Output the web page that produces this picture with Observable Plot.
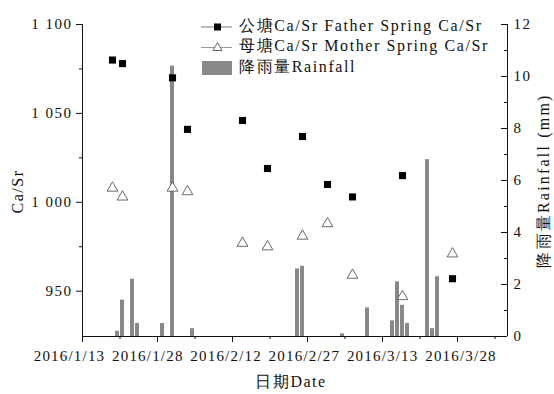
<!DOCTYPE html>
<html>
<head>
<meta charset="utf-8">
<script src="https://cdn.jsdelivr.net/npm/d3@7"></script>
<script src="https://cdn.jsdelivr.net/npm/@observablehq/plot@0.6"></script>
<style>
  html, body { margin: 0; padding: 0; background: #fff; }
  #wrap { position: relative; width: 554px; height: 394px; overflow: hidden; }
  #wrap svg, #wrap svg text { font-family: "Liberation Serif", serif !important; }
  .leg { position: absolute; left: 200px; font-family: "Liberation Serif", serif; font-size: 16px; letter-spacing: 1.6px; color: #111; white-space: nowrap; line-height: 20px; }
  .leg svg { vertical-align: middle; margin-right: 6px; }
</style>
</head>
<body>
<div id="wrap"></div>
<script>
// ---- data ----
const sampleDates = ["2016-01-19","2016-01-21","2016-01-31","2016-02-03","2016-02-14","2016-02-19","2016-02-26","2016-03-02","2016-03-07","2016-03-17","2016-03-27"];
const fatherCaSr = [1080, 1078, 1070, 1041, 1046, 1019, 1037, 1010, 1003, 1015, 957];
const motherCaSr = [1008, 1003, 1008, 1006, 977, 975, 981, 988, 959, 947, 971];
const rainDates = ["2016-01-20","2016-01-21","2016-01-23","2016-01-24","2016-01-29","2016-01-31","2016-02-04","2016-02-25","2016-02-26","2016-03-05","2016-03-10","2016-03-15","2016-03-16","2016-03-17","2016-03-18","2016-03-22","2016-03-23","2016-03-24"];
const rainfall = [0.2, 1.4, 2.2, 0.5, 0.5, 10.4, 0.3, 2.6, 2.7, 0.1, 1.1, 0.6, 2.1, 1.2, 0.5, 6.8, 0.3, 2.3];
const xTickDates = ["2016-01-13","2016-01-28","2016-02-12","2016-02-27","2016-03-13","2016-03-28"];
const caSrTicks = [950, 1000, 1050, 1100];
const caSrMinor = [975, 1025, 1075];
const rainTicks = [0, 2, 4, 6, 8, 10, 12];
const rainMinor = [1, 3, 5, 7, 9, 11];
const xDomain = ["2016-01-13", "2016-04-07"];
const yDomain = [924.5, 1100];
const rainMax = 12;

// ---- helpers ----
const DAY = 864e5;
const dt = s => new Date(s + "T00:00:00Z");
const toLeft = r => yDomain[0] + r * (yDomain[1] - yDomain[0]) / rainMax;
const fromLeft = v => (v - yDomain[0]) * rainMax / (yDomain[1] - yDomain[0]);
const fmtDate = d => `${d.getUTCFullYear()}/${d.getUTCMonth() + 1}/${d.getUTCDate()}`;
const fmtNum = v => d3.format(",")(v).replace(",", " ");

const father = sampleDates.map((d, i) => ({date: dt(d), v: fatherCaSr[i]}));
const mother = sampleDates.map((d, i) => ({date: dt(d), v: motherCaSr[i]}));
const rain = rainDates.map((d, i) => ({date: dt(d), r: rainfall[i]}));
const majorX = xTickDates.map(dt);
const minorX = majorX.map(d => new Date(+d + 7.5 * DAY));
// tick labels in the original sit slightly left of their ticks, drifting right across the axis
const xLabels = majorX.map((d, i) => ({date: d, label: fmtDate(d), pos: new Date(+d + (-2.6 + 0.66 * i) * DAY)}));

const W = 554, H = 394, ML = 82, MR = 47, MT = 24, MB = 58;
const frameW = W - ML - MR;

const chart = Plot.plot({
  width: W, height: H,
  marginLeft: ML, marginRight: MR, marginTop: MT, marginBottom: MB,
  style: {fontFamily: "'Liberation Serif', serif", fontSize: "15px", letterSpacing: "1.5px", background: "white", color: "#111"},
  x: {type: "utc", domain: xDomain.map(dt)},
  y: {domain: yDomain},
  marks: [
    // rainfall bars
    Plot.rectY(rain, {
      x1: d => new Date(+d.date - 0.4 * DAY),
      x2: d => new Date(+d.date + 0.4 * DAY),
      y1: yDomain[0], y2: d => toLeft(d.r),
      fill: "#888"
    }),
    // axis lines
    Plot.ruleY([yDomain[0]], {stroke: "#111"}),
    Plot.ruleX([dt(xDomain[0])], {stroke: "#111"}),
    Plot.ruleX([dt(xDomain[1])], {stroke: "#111"}),
    // left axis
    Plot.axisY(caSrTicks, {anchor: "left", tickSize: 6, tickPadding: 4, tickFormat: fmtNum, label: null}),
    Plot.axisY(caSrMinor, {anchor: "left", tickSize: 3, tickFormat: () => "", label: null}),
    // right axis (rainfall) labels, ticks inward
    Plot.axisY(rainTicks.map(toLeft), {anchor: "right", tickSize: 0, tickPadding: 6, tickFormat: v => String(Math.round(fromLeft(v))), label: null}),
    Plot.tickY(rainTicks.map(toLeft), {y: d => d, insetLeft: frameW - 6, stroke: "#111"}),
    Plot.tickY(rainMinor.map(toLeft), {y: d => d, insetLeft: frameW - 3, stroke: "#111"}),
    // x axis
    Plot.axisX(majorX, {anchor: "bottom", tickSize: 6, tickFormat: () => "", label: null}),
    Plot.axisX(minorX, {anchor: "bottom", tickSize: 3, tickFormat: () => "", label: null}),
    Plot.text(xLabels, {x: "pos", text: "label", frameAnchor: "bottom", lineAnchor: "top", dy: 14, fontSize: 15, fill: "#111"}),
    // points
    Plot.dot(mother, {x: "date", y: "v", symbol: "triangle", r: 4, fill: "white", stroke: "#444", strokeWidth: 0.8}),
    Plot.dot(father, {x: "date", y: "v", symbol: "square", r: 4, fill: "#000"}),
    // axis titles
    Plot.text(["Ca/Sr"], {frameAnchor: "left", textAnchor: "middle", rotate: -90, dx: -65, dy: 11, fontSize: 16, lineAnchor: "middle", fill: "#111"}),
    Plot.text(["降雨量Rainfall (mm)"], {frameAnchor: "right", textAnchor: "middle", rotate: -90, dx: 36, dy: 0, fontSize: 16, lineAnchor: "middle", fill: "#111"}),
    Plot.text(["日期Date"], {frameAnchor: "bottom", textAnchor: "middle", dx: -4, dy: 45, fontSize: 16, lineAnchor: "middle", fill: "#111"})
  ]
});

const wrap = document.getElementById("wrap");
wrap.appendChild(chart);
// per-text letter spacing to match the original's loose setting
chart.querySelectorAll("text").forEach(t => {
  if (t.textContent.startsWith("降雨量")) t.style.letterSpacing = "2.2px";
  else if (/^2016\//.test(t.textContent)) t.style.letterSpacing = "1.2px";
});

// legend overlay
const legendItems = [
  {label: "公塘Ca/Sr Father Spring Ca/Sr", top: 15.5, sw: `<svg width="33" height="12"><line x1="1" x2="32" y1="6" y2="6" stroke="#777" stroke-width="1"/><rect x="14" y="2.5" width="7" height="7" fill="#000"/></svg>`},
  {label: "母塘Ca/Sr Mother Spring Ca/Sr", top: 36, sw: `<svg width="33" height="12"><line x1="1" x2="32" y1="6.5" y2="6.5" stroke="#999" stroke-width="1"/><path d="M17.5,1.5 L22,9.5 L13,9.5 Z" fill="#fff" stroke="#444" stroke-width="0.8"/></svg>`},
  {label: "降雨量Rainfall", top: 57, sw: `<svg width="33" height="14"><rect x="2" y="0" width="30" height="14" fill="#888"/></svg>`}
];
for (const it of legendItems) {
  const div = document.createElement("div");
  div.className = "leg";
  div.style.top = it.top + "px";
  div.innerHTML = it.sw + `<span>${it.label}</span>`;
  wrap.appendChild(div);
}
</script>
</body>
</html>
